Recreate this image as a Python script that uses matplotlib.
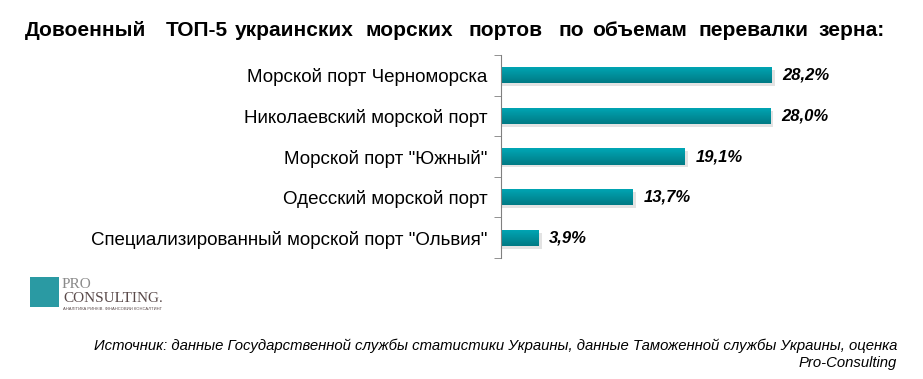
import numpy as np
import matplotlib.pyplot as plt
from matplotlib.patches import Rectangle

plt.rcParams['font.family'] = ['Liberation Sans', 'DejaVu Sans']

ports = ['Морской порт Черноморска', 'Николаевский морской порт', 'Морской порт "Южный"',
         'Одесский морской порт', 'Специализированный морской порт "Ольвия"']
shares = [28.2, 28.0, 19.1, 13.7, 3.9]
share_labels = ['28,2%', '28,0%', '19,1%', '13,7%', '3,9%']

title_words = ['Довоенный', 'ТОП-5', 'украинских', 'морских', 'портов', 'по', 'объемам', 'перевалки', 'зерна:']
title_cx = [86, 197, 294, 409, 505, 571, 640, 754, 852]  # word centres, px (justified title)
source = ('Источник: данные Государственной службы статистики Украины, данные Таможенной службы Украины, оценка\n'
          'Pro-Consulting')

W, H = 923, 379
fig = plt.figure(figsize=(W / 100, H / 100), dpi=100)
ax = fig.add_axes([0.543, 0.319, 0.33, 0.536])

y = np.arange(len(ports))
bar_h = 0.4
grad = np.linspace(0, 1, 64).reshape(-1, 1)
cmap = plt.matplotlib.colors.LinearSegmentedColormap.from_list('teal', ['#00a7b6', '#007a84'])

for yi, val in zip(y, shares):
    # soft shadow under bar
    ax.add_patch(Rectangle((0, yi - bar_h / 2 + 0.07), val + 0.3, bar_h, color='#c8c8c8', alpha=0.5, lw=0, zorder=1))
    bar = Rectangle((0, yi - bar_h / 2), val, bar_h, facecolor='none', lw=0, zorder=2)
    ax.add_patch(bar)
    im = ax.imshow(grad, cmap=cmap, aspect='auto', extent=(0, val, yi + bar_h / 2, yi - bar_h / 2),
                   origin='upper', zorder=2)
    im.set_clip_path(bar)

for yi, val, lab in zip(y, shares, share_labels):
    ax.text(val + 1.1, yi, lab, va='center', ha='left', fontsize=12, fontweight='bold', fontstyle='italic')

ax.set_xlim(0, 31.7)
ax.set_ylim(len(ports) - 0.5, -0.5)
ax.set_yticks(y)
ax.set_yticklabels(ports, fontsize=13.5)
ax.set_yticks(np.arange(-0.5, len(ports), 1), minor=True)
ax.tick_params(axis='y', which='major', length=0, pad=10)
ax.tick_params(axis='y', which='minor', length=5, color='#808080', direction='out')
ax.set_xticks([])
for s in ['top', 'right', 'bottom']:
    ax.spines[s].set_visible(False)
ax.spines['left'].set_color('#808080')

for word, cx in zip(title_words, title_cx):
    fig.text(cx / W, 1 - 31 / H, word, ha='center', va='center', fontsize=15, fontweight='bold')

# logo
fig.patches.append(Rectangle((30 / W, 1 - 307 / H), 29 / W, 30 / H, transform=fig.transFigure,
                             facecolor='#2a9aa3', edgecolor='none'))
fig.text(62 / W, 1 - 285 / H, 'PRO', fontsize=11, family='Liberation Serif', color='#8a8a8a', va='center')
fig.text(63 / W, 1 - 299 / H, 'CONSULTING.', fontsize=11, family='Liberation Serif', color='#5a4a4a', va='center')
fig.text(63 / W, 1 - 309 / H, 'АНАЛІТИКА РИНКІВ. ФІНАНСОВИЙ КОНСАЛТИНГ', fontsize=3, color='#5a4a4a', va='center')

fig.text(897 / W, 1 - 354 / H, source, ha='right', va='center', fontsize=10.7, fontstyle='italic',
         linespacing=1.3)

fig.savefig('out.png', dpi=100)
